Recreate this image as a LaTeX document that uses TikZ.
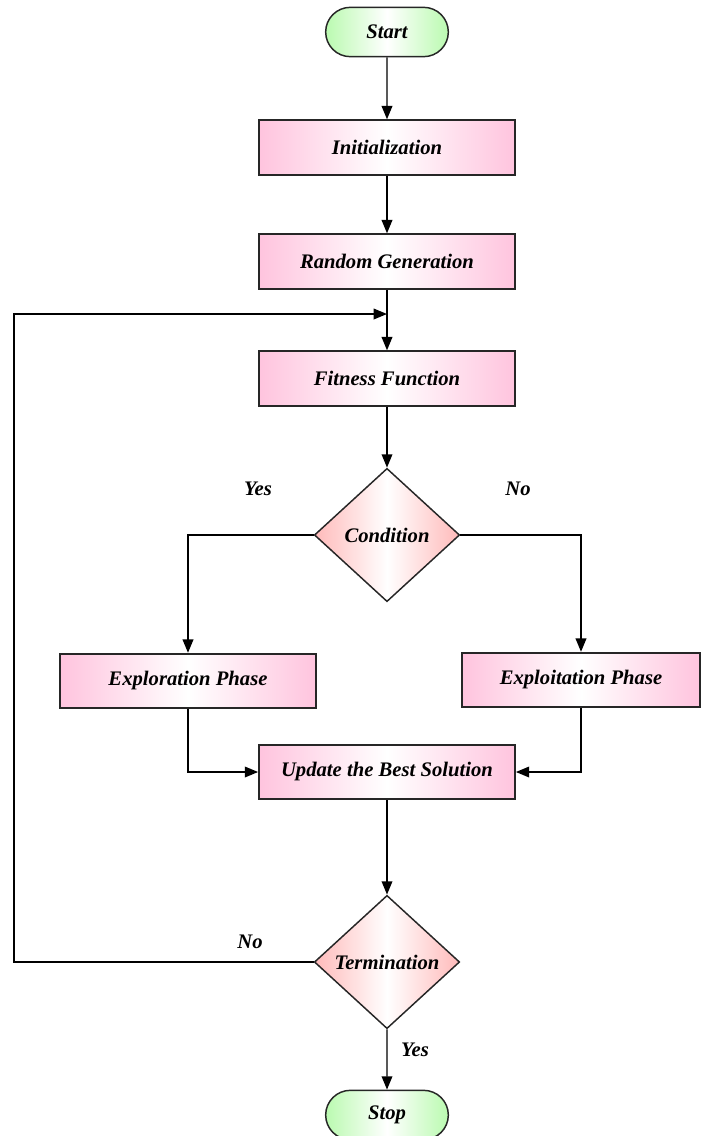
\documentclass[tikz,border=0pt]{standalone}
\usepackage{fontspec}
\setmainfont{Liberation Serif}
\usetikzlibrary{shapes.geometric,shapes.misc,arrows.meta}
\definecolor{boxpink}{RGB}{255,196,222}
\definecolor{diapink}{RGB}{255,186,186}
\definecolor{termgreen}{RGB}{186,250,176}

\tikzset{
    txt/.style={font=\fontsize{15.5}{18}\selectfont\bfseries\itshape},
    process/.style={txt, rectangle, draw=black!85, line width=1.3pt,
        left color=boxpink, right color=boxpink, middle color=white,
        minimum width=192pt, minimum height=41pt, inner sep=0pt},
    decision/.style={txt, diamond, draw=black!85, line width=1.1pt,
        left color=diapink, right color=diapink, middle color=white,
        minimum width=109pt, minimum height=100pt, inner sep=0pt},
    terminal/.style={txt, rounded rectangle, draw=black!85, line width=1.1pt,
        left color=termgreen, right color=termgreen, middle color=white,
        minimum width=92pt, minimum height=37pt, inner sep=0pt},
    arr/.style={-{Triangle[length=10pt,width=8pt]}, line width=1.1pt},
    line/.style={line width=1.1pt}
}

\begin{document}
\begin{tikzpicture}[x=0.75pt, y=-0.75pt]
    \useasboundingbox (0,0) rectangle (703,1136);

    % ---- Main column ----
    \node[terminal] (start) at (387,32) {Start};
    \node[process] (init) at (387,147.5) {Initialization};
    \node[process] (randgen) at (387,261.5) {Random Generation};
    \node[process] (fitness) at (387,378.5) {Fitness Function};
    \node[decision] (cond) at (387,535) {Condition};

    % ---- Two phases ----
    \node[process] (explore) at (188,681) {Exploration Phase};
    \node[process, minimum width=178pt] (exploit) at (581,680) {Exploitation Phase};

    \node[process] (update) at (387,772) {Update the Best Solution};
    \node[decision] (term) at (387,962) {Termination};
    \node[terminal] (stop) at (387,1115) {Stop};

    % Loop points
    \coordinate (join) at (387,314);
    \coordinate (loopdown) at (14,962);
    \coordinate (loopup) at (14,314);

    % Connectors
    \draw[arr] (start) -- (init);
    \draw[arr] (init) -- (randgen);
    \draw[arr] (randgen) -- (fitness);
    \draw[arr] (fitness) -- (cond);
    \draw[arr] (cond.west) -| (explore.north);
    \draw[arr] (cond.east) -| (exploit.north);
    \draw[arr] (explore.south) |- (update.west);
    \draw[arr] (exploit.south) |- (update.east);
    \draw[arr] (update) -- (term);
    \draw[arr] (term) -- (stop);
    \draw[arr] (term.west) -- (loopdown) -- (loopup) -- (join);

    % Labels
    \node[txt] (yes1) at (258,489) {Yes};
    \node[txt] (no1) at (518,489) {No};
    \node[txt] (no2) at (250,942) {No};
    \node[txt] (yes2) at (415,1050) {Yes};
\end{tikzpicture}
\end{document}
